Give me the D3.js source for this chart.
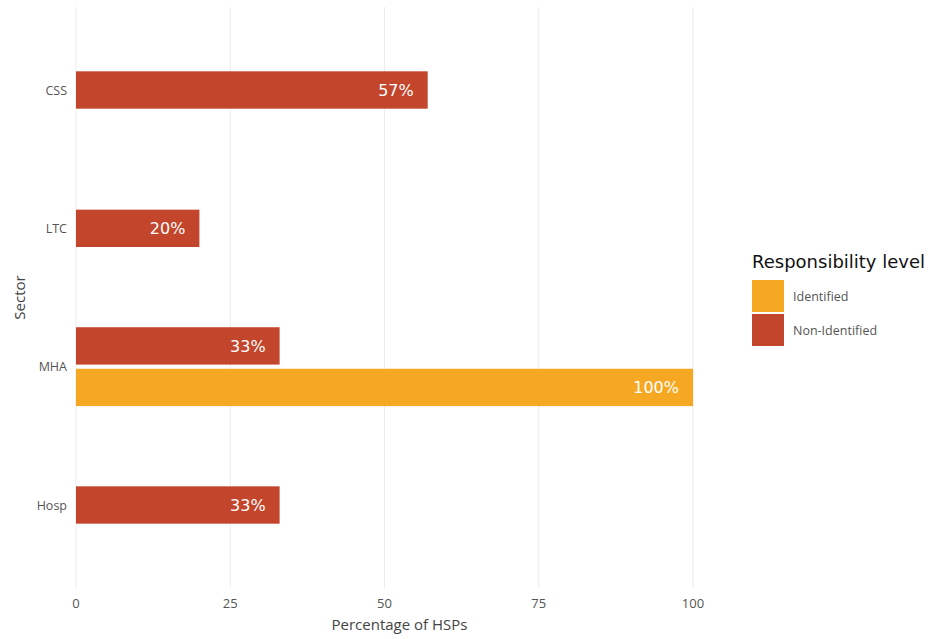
<!DOCTYPE html>
<html>
<head>
<meta charset="utf-8">
<script src="https://cdn.jsdelivr.net/npm/d3@7"></script>
<style>
  body { margin: 0; background: #fff; }
  svg { display: block; }
</style>
</head>
<body>
<svg id="chart" width="944" height="639"></svg>
<script>
// Sectors, top to bottom
const sectors = ["CSS", "LTC", "MHA", "Hosp"];
// Share of HSPs (%) by responsibility level; null = no bar
const identified = [null, null, 100, null];
const nonIdentified = [57, 20, 33, 33];
const levels = ["Identified", "Non-Identified"];
const levelColors = ["#F7A823", "#C3452B"];
const xTicks = [0, 25, 50, 75, 100];

const svg = d3.select("#chart");
const panel = { left: 76, right: 693, top: 7, bottom: 588 };

const x = d3.scaleLinear().domain([0, 100]).range([panel.left, panel.right]);
const y = d3.scalePoint().domain(sectors).range([panel.top, panel.bottom]).padding(0.6);
const color = d3.scaleOrdinal().domain(levels).range(levelColors);

// Vertical grid lines
svg.append("g").selectAll("line").data(xTicks).join("line")
  .attr("x1", d => x(d)).attr("x2", d => x(d))
  .attr("y1", panel.top).attr("y2", panel.bottom)
  .attr("stroke", "#ebebeb").attr("stroke-width", 1);

// Build bar records: dodge within each sector, preserving single-bar width
const rows = [];
sectors.forEach((s, i) => {
  const present = [];
  if (nonIdentified[i] != null) present.push({ level: "Non-Identified", value: nonIdentified[i] });
  if (identified[i] != null) present.push({ level: "Identified", value: identified[i] });
  present.forEach((p, j) => rows.push({ sector: s, level: p.level, value: p.value, slot: j, n: present.length }));
});

const step = y.step();
const slotW = 0.6 * step / 2;   // width per dodged slot
const barH = slotW * 0.9;       // 10% padding between dodged bars

function barCenter(d) {
  return y(d.sector) + (d.slot - (d.n - 1) / 2) * slotW;
}

svg.append("g").selectAll("rect").data(rows).join("rect")
  .attr("x", x(0))
  .attr("y", d => barCenter(d) - barH / 2)
  .attr("width", d => x(d.value) - x(0))
  .attr("height", barH)
  .attr("fill", d => color(d.level));

// Value labels inside bar ends
svg.append("g").selectAll("text").data(rows).join("text")
  .attr("x", d => x(d.value) - 14)
  .attr("y", d => barCenter(d))
  .attr("dy", "0.36em")
  .attr("text-anchor", "end")
  .attr("font-family", "'DejaVu Sans', sans-serif")
  .attr("font-size", 16)
  .attr("fill", "#ffffff")
  .text(d => d.value + "%");

// Y axis labels
svg.append("g").selectAll("text").data(sectors).join("text")
  .attr("x", panel.left - 9)
  .attr("y", d => y(d))
  .attr("dy", "0.36em")
  .attr("text-anchor", "end")
  .attr("font-family", "'Open Sans', sans-serif")
  .attr("font-size", 12.5)
  .attr("fill", "#555")
  .text(d => d);

// X axis labels
svg.append("g").selectAll("text").data(xTicks).join("text")
  .attr("x", d => x(d))
  .attr("y", 608)
  .attr("text-anchor", "middle")
  .attr("font-family", "'Open Sans', sans-serif")
  .attr("font-size", 13)
  .attr("fill", "#555")
  .text(d => d);

// Axis titles
svg.append("text")
  .attr("x", 399.5)
  .attr("y", 630)
  .attr("text-anchor", "middle")
  .attr("font-family", "'Open Sans', sans-serif")
  .attr("font-size", 15)
  .attr("fill", "#444")
  .text("Percentage of HSPs");

svg.append("text")
  .attr("transform", `translate(25,${(panel.top + panel.bottom) / 2}) rotate(-90)`)
  .attr("text-anchor", "middle")
  .attr("font-family", "'Open Sans', sans-serif")
  .attr("font-size", 15)
  .attr("fill", "#444")
  .text("Sector");

// Legend
const lg = svg.append("g").attr("transform", "translate(752,0)");
lg.append("text")
  .attr("x", 0).attr("y", 268)
  .attr("font-family", "'DejaVu Sans', sans-serif")
  .attr("font-size", 18)
  .attr("fill", "#111")
  .text("Responsibility level");

const keySize = 32;
lg.selectAll("rect").data(levels).join("rect")
  .attr("x", 0)
  .attr("y", (d, i) => 280 + i * (keySize + 2))
  .attr("width", keySize).attr("height", keySize)
  .attr("fill", d => color(d));

lg.selectAll("text.key").data(levels).join("text")
  .attr("class", "key")
  .attr("x", keySize + 9)
  .attr("y", (d, i) => 280 + i * (keySize + 2) + keySize / 2)
  .attr("dy", "0.36em")
  .attr("font-family", "'Open Sans', sans-serif")
  .attr("font-size", 12.5)
  .attr("fill", "#555")
  .text(d => d);
</script>
</body>
</html>
